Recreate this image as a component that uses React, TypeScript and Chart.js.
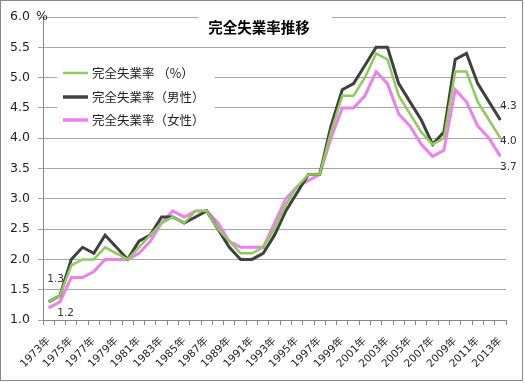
import React, { useEffect, useRef } from "react";
import { Chart, registerables } from "chart.js";

Chart.register(...registerables);

const years: string[] = [];
for (let y = 1973; y <= 2013; y++) years.push(y + "年");

const totalRate = [1.3, 1.4, 1.9, 2.0, 2.0, 2.2, 2.1, 2.0, 2.2, 2.4, 2.6, 2.7, 2.6, 2.8, 2.8, 2.5, 2.3, 2.1, 2.1, 2.2, 2.5, 2.9, 3.2, 3.4, 3.4, 4.1, 4.7, 4.7, 5.0, 5.4, 5.3, 4.7, 4.4, 4.1, 3.9, 4.0, 5.1, 5.1, 4.6, 4.3, 4.0];
const maleRate = [1.3, 1.4, 2.0, 2.2, 2.1, 2.4, 2.2, 2.0, 2.3, 2.4, 2.7, 2.7, 2.6, 2.7, 2.8, 2.5, 2.2, 2.0, 2.0, 2.1, 2.4, 2.8, 3.1, 3.4, 3.4, 4.2, 4.8, 4.9, 5.2, 5.5, 5.5, 4.9, 4.6, 4.3, 3.9, 4.1, 5.3, 5.4, 4.9, 4.6, 4.3];
const femaleRate = [1.2, 1.3, 1.7, 1.7, 1.8, 2.0, 2.0, 2.0, 2.1, 2.3, 2.6, 2.8, 2.7, 2.8, 2.8, 2.6, 2.3, 2.2, 2.2, 2.2, 2.6, 3.0, 3.2, 3.3, 3.4, 4.0, 4.5, 4.5, 4.7, 5.1, 4.9, 4.4, 4.2, 3.9, 3.7, 3.8, 4.8, 4.6, 4.2, 4.0, 3.7];

const seriesNames = ["完全失業率 （%）", "完全失業率（男性）", "完全失業率（女性）"];
const seriesColors = ["#8fcb5b", "#404040", "#ec80ec"];
const title = "完全失業率推移";

// labelled points: [dataset, index, dx, dy]
const pointLabels: [number, number, number, number][] = [
  [1, 0, 7, -23],
  [2, 0, 17, 5],
  [1, 40, 8, -14],
  [0, 40, 8, 3],
  [2, 40, 8, 11],
];

const FONT = "'DejaVu Sans', Verdana, sans-serif";
const CJK = "'Noto Sans CJK JP', 'DejaVu Sans', sans-serif";
const MIXED = "'DejaVu Sans', 'Noto Sans CJK JP', sans-serif";

const decorPlugin = {
  id: "decor",
  afterDraw(chart: any) {
    const ctx = chart.ctx as CanvasRenderingContext2D;
    const y = chart.scales.y;
    ctx.save();
    // title with white box
    ctx.fillStyle = "#ffffff";
    ctx.fillRect(198, 9, 134, 34);
    ctx.fillStyle = "#000000";
    ctx.font = "bold 14.5px " + CJK;
    ctx.textAlign = "center";
    ctx.textBaseline = "middle";
    ctx.fillText(title, 259, 27);
    // % unit
    ctx.font = "12.5px " + FONT;
    ctx.fillStyle = "#222";
    ctx.textAlign = "left";
    ctx.fillText("%", 36, y.getPixelForValue(6));
    // legend
    ctx.fillStyle = "#ffffff";
    ctx.fillRect(57, 60, 158, 70);
    const rows = [73, 97, 120];
    const widths = [2.5, 3.5, 3.5];
    seriesNames.forEach((n, i) => {
      ctx.strokeStyle = seriesColors[i];
      ctx.lineWidth = widths[i];
      ctx.beginPath();
      ctx.moveTo(63, rows[i]);
      ctx.lineTo(88, rows[i]);
      ctx.stroke();
      ctx.fillStyle = "#222";
      ctx.font = "12.5px " + CJK;
      ctx.textAlign = "left";
      ctx.textBaseline = "middle";
      ctx.fillText(n, 92, rows[i]);
    });
    // data labels
    ctx.font = "10.5px " + FONT;
    ctx.fillStyle = "#333";
    ctx.textAlign = "center";
    pointLabels.forEach(([d, i, dx, dy]) => {
      const el = chart.getDatasetMeta(d).data[i];
      const v = chart.data.datasets[d].data[i];
      ctx.fillText(Number(v).toFixed(1), el.x + dx, el.y + dy);
    });
    // border
    ctx.strokeStyle = "#888888";
    ctx.lineWidth = 1;
    ctx.strokeRect(0.5, 0.5, 522, 380);
    ctx.restore();
  },
};

export default function App() {
  const ref = useRef<HTMLCanvasElement | null>(null);
  useEffect(() => {
    document.body.style.margin = "0";
    const canvas = ref.current!;
    const chart = new Chart(canvas, {
      type: "line",
      data: {
        labels: years,
        datasets: [
          { label: seriesNames[0], data: totalRate, borderColor: seriesColors[0], borderWidth: 2.5 },
          { label: seriesNames[1], data: maleRate, borderColor: seriesColors[1], borderWidth: 3 },
          { label: seriesNames[2], data: femaleRate, borderColor: seriesColors[2], borderWidth: 3 },
        ].map((d) => ({ ...d, pointRadius: 0, tension: 0, fill: false })),
      },
      options: {
        animation: false,
        responsive: false,
        layout: { padding: { left: 0, right: 19, top: 17, bottom: 0 } },
        plugins: { legend: { display: false }, title: { display: false }, tooltip: { enabled: false } },
        scales: {
          x: {
            offset: true,
            grid: { offset: true, drawOnChartArea: false, drawTicks: true, tickLength: 5, color: "#888888" },
            border: { color: "#888888" },
            ticks: {
              autoSkip: false,
              minRotation: 45,
              maxRotation: 45,
              padding: 10,
              color: "#222",
              font: { family: MIXED, size: 10.5 },
              callback: (_v: any, i: number) => (i % 2 === 0 ? years[i] : ""),
            },
            afterFit: (s: any) => {
              s.height = 63;
            },
          },
          y: {
            min: 1,
            max: 6,
            grid: { color: "#a6a6a6", tickLength: 5 },
            border: { color: "#888888" },
            ticks: {
              stepSize: 0.5,
              padding: 8,
              color: "#222",
              font: { family: FONT, size: 12.5 },
              callback: (v: any) => Number(v).toFixed(1),
            },
            afterFit: (s: any) => {
              s.width = 43;
            },
          },
        },
      },
      plugins: [decorPlugin],
    });
    return () => chart.destroy();
  }, []);
  return <canvas ref={ref} width={525} height={383} style={{ display: "block" }} />;
}
